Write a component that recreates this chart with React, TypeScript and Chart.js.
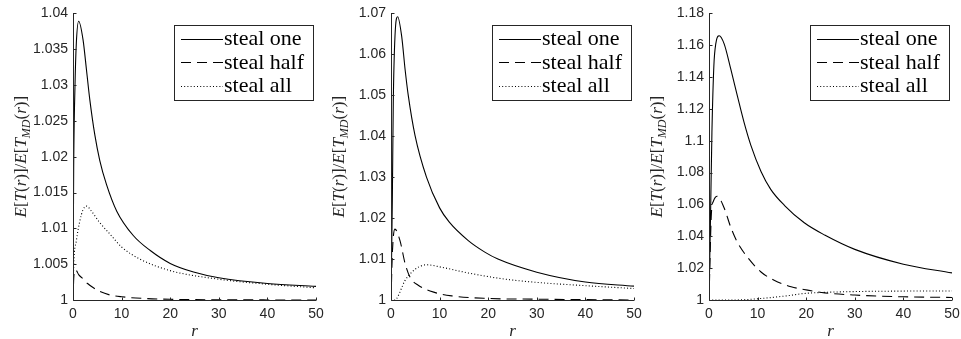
import React, { useEffect, useRef } from "react";
import { Chart, registerables } from "chart.js";

Chart.register(...registerables);

// ---------- data ----------
const seriesLabels = ["steal one", "steal half", "steal all"];
const xTicksStep = 10;
const xMax = 50;

// Panel 1
const p1OneR = [0, 0.14, 0.41, 0.69, 1.17, 2.07, 2.76, 3.45, 4.5, 5.5, 6.9, 9, 12.4, 15.9, 20, 24.8, 30, 40, 50];
const p1OneY = [1.0, 1.0184, 1.0299, 1.0359, 1.0389, 1.0363, 1.0322, 1.028, 1.023, 1.0195, 1.0161, 1.0124, 1.009, 1.0069, 1.0051, 1.0039, 1.0031, 1.0023, 1.0019];
const p1HalfR = [0, 0.15, 0.4, 0.7, 1.2, 2, 3, 4.2, 5.5, 7.6, 10, 15, 20, 30, 40, 50];
const p1HalfY = [1.0, 1.003, 1.0042, 1.0041, 1.0035, 1.003, 1.0023, 1.0017, 1.0012, 1.0007, 1.00045, 1.0002, 1.0001, 1.00003, 1.00001, 1.0];
const p1AllR = [0, 0.14, 0.7, 1.4, 2.07, 2.76, 3.8, 5.5, 7.6, 10, 13.8, 20, 30, 40, 50];
const p1AllY = [1.0, 1.0046, 1.0083, 1.011, 1.0126, 1.0131, 1.0124, 1.0108, 1.0092, 1.0074, 1.0057, 1.0041, 1.0029, 1.0022, 1.0017];

// Panel 2
const p2OneR = [0, 0.27, 0.47, 0.82, 1.37, 2.2, 2.9, 3.56, 4.94, 7.3, 10, 12, 15.9, 19.3, 22, 30, 40, 50];
const p2OneY = [1.0, 1.0241, 1.0483, 1.0644, 1.0692, 1.0644, 1.0563, 1.0499, 1.0402, 1.03, 1.0225, 1.019, 1.0145, 1.0117, 1.01, 1.0068, 1.0044, 1.0034];
const p2HalfR = [0, 0.3, 0.8, 1.85, 2.9, 3.9, 5.6, 9.1, 12.5, 19.4, 30, 40, 50];
const p2HalfY = [1.0, 1.012, 1.0173, 1.0145, 1.0089, 1.0056, 1.0036, 1.0018, 1.001, 1.0004, 1.0002, 1.0001, 1.0];
const p2AllR = [0, 0.8, 1.2, 2.9, 4.3, 5.6, 7.3, 10.4, 15.9, 22.8, 30, 40, 50];
const p2AllY = [1.0, 1.0, 1.0004, 1.0048, 1.0068, 1.008, 1.0086, 1.008, 1.0066, 1.0052, 1.0043, 1.0035, 1.0028];

// Panel 3
const p3OneR = [0, 0.3, 0.6, 1.0, 1.4, 2.1, 3.1, 4.5, 5.85, 7.2, 8.6, 10.7, 12.7, 15.5, 19.6, 23.8, 30, 40, 50];
const p3OneY = [1.0, 1.05, 1.105, 1.147, 1.161, 1.166, 1.161, 1.1448, 1.128, 1.1117, 1.0973, 1.0807, 1.0695, 1.0595, 1.0485, 1.0408, 1.0318, 1.0225, 1.017];
const p3HalfR = [0, 0.5, 0.9, 1.7, 3.1, 4.5, 5.85, 7.9, 10.7, 13.4, 16.9, 20.3, 23.8, 30, 40, 50];
const p3HalfY = [1.0, 1.0548, 1.062, 1.0652, 1.0579, 1.0455, 1.0362, 1.0269, 1.0176, 1.0124, 1.0083, 1.0062, 1.0045, 1.0031, 1.002, 1.0016];
const p3AllR = [0, 5, 9.3, 16.2, 19.6, 23.8, 30, 40, 50];
const p3AllY = [1.0, 1.0, 1.0006, 1.0027, 1.0041, 1.0048, 1.0053, 1.0056, 1.0057];

const p1YRange = [1, 1.04, 0.005];
const p2YRange = [1, 1.07, 0.01];
const p3YRange = [1, 1.18, 0.02];

// ---------- styles ----------
const AXIS_COLOR = "#262626";
const TICK_FONT = "Liberation Sans";
const SERIF = "Liberation Serif";
const dashes = [[], [10, 6], [1, 2.2]];

type PanelCfg = {
  series: [number[], number[]][];
  yRange: number[];
};

const panels: PanelCfg[] = [
  { series: [[p1OneR, p1OneY], [p1HalfR, p1HalfY], [p1AllR, p1AllY]], yRange: p1YRange },
  { series: [[p2OneR, p2OneY], [p2HalfR, p2HalfY], [p2AllR, p2AllY]], yRange: p2YRange },
  { series: [[p3OneR, p3OneY], [p3HalfR, p3HalfY], [p3AllR, p3AllY]], yRange: p3YRange },
];

const panelLefts = [0, 318, 636];
const CW = 330;
const CH = 339;

const decoPlugin = {
  id: "deco",
  afterDraw(chart: any) {
    const { ctx, chartArea: ca, scales } = chart;
    const xs = scales.x;
    const ys = scales.y;
    ctx.save();
    // axes
    ctx.strokeStyle = AXIS_COLOR;
    ctx.lineWidth = 1;
    const L = Math.round(ca.left) + 0.5;
    const B = Math.round(ca.bottom) + 0.5;
    ctx.beginPath();
    ctx.moveTo(L, Math.round(ca.top));
    ctx.lineTo(L, B);
    ctx.lineTo(Math.round(ca.right), B);
    ctx.stroke();
    ctx.beginPath();
    ys.ticks.forEach((t: any) => {
      const y = Math.round(ys.getPixelForValue(t.value)) + 0.5;
      ctx.moveTo(L, y);
      ctx.lineTo(L + 3, y);
    });
    xs.ticks.forEach((t: any) => {
      const x = Math.round(xs.getPixelForValue(t.value)) + 0.5;
      ctx.moveTo(x, B);
      ctx.lineTo(x, B - 3);
    });
    ctx.stroke();

    // x label
    ctx.fillStyle = AXIS_COLOR;
    ctx.font = `italic 17px "${SERIF}"`;
    ctx.textAlign = "center";
    ctx.textBaseline = "alphabetic";
    ctx.fillText("r", (ca.left + ca.right) / 2, 336);

    // y label with subscript
    const fs = 17;
    const segs: [string, string, number][] = [
      ["E", "italic", 0], ["[", "", 0], ["T", "italic", 0], ["(", "", 0], ["r", "italic", 0], [")]/", "", 0],
      ["E", "italic", 0], ["[", "", 0], ["T", "italic", 0], ["MD", "italic", 1], ["(", "", 0], ["r", "italic", 0], [")]", "", 0],
    ];
    const fontFor = (s: [string, string, number]) =>
      `${s[1]} ${s[2] ? Math.round(fs * 0.7) : fs}px "${SERIF}"`.trim();
    let total = 0;
    const widths = segs.map((s) => {
      ctx.font = fontFor(s);
      const w = ctx.measureText(s[0]).width;
      total += w;
      return w;
    });
    ctx.translate(26, (ca.top + ca.bottom) / 2);
    ctx.rotate(-Math.PI / 2);
    ctx.textAlign = "left";
    let cx = -total / 2;
    segs.forEach((s, i) => {
      ctx.font = fontFor(s);
      ctx.fillText(s[0], cx, s[2] ? 3.5 : 0);
      cx += widths[i];
    });
    ctx.setTransform(1, 0, 0, 1, 0, 0);

    // legend
    const boxW = 139;
    const boxH = 75;
    const boxR = Math.round(ca.right) - 3;
    const boxL = boxR - boxW;
    const boxT = Math.round(ca.top) + 12;
    ctx.fillStyle = "#ffffff";
    ctx.fillRect(boxL, boxT, boxW, boxH);
    ctx.strokeStyle = AXIS_COLOR;
    ctx.lineWidth = 1;
    ctx.strokeRect(boxL + 0.5, boxT + 0.5, boxW, boxH);
    const rowsY = [13.5, 37, 60.5];
    chart.data.datasets.forEach((ds: any, i: number) => {
      const y = boxT + rowsY[i];
      ctx.strokeStyle = "#000";
      ctx.lineWidth = 1;
      ctx.setLineDash(ds.borderDash || []);
      ctx.beginPath();
      ctx.moveTo(boxL + 7, Math.round(y) + 0.5);
      ctx.lineTo(boxL + 49, Math.round(y) + 0.5);
      ctx.stroke();
      ctx.setLineDash([]);
      ctx.fillStyle = "#000";
      ctx.font = `22px "${SERIF}"`;
      ctx.textAlign = "left";
      ctx.textBaseline = "middle";
      ctx.fillText(ds.label, boxL + 50, y + 1);
    });
    ctx.restore();
  },
};

const fmt = (v: any) => String(parseFloat(Number(v).toFixed(4)));

function Panel({ cfg, left }: { cfg: PanelCfg; left: number }) {
  const ref = useRef<HTMLCanvasElement>(null);
  useEffect(() => {
    const [yMin, yMax, yStep] = cfg.yRange;
    const chart = new Chart(ref.current as HTMLCanvasElement, {
      type: "line",
      data: {
        datasets: cfg.series.map(([R, Y], i) => ({
          label: seriesLabels[i],
          data: R.map((x, j) => ({ x, y: Y[j] })),
          borderColor: "#000",
          borderWidth: 1.1,
          borderDash: dashes[i],
          pointRadius: 0,
          fill: false,
          cubicInterpolationMode: "monotone" as const,
        })),
      },
      options: {
        animation: false,
        responsive: false,
        devicePixelRatio: 1,
        layout: { padding: { left: 0, right: 14, top: 10, bottom: 0 } },
        plugins: { legend: { display: false }, tooltip: { enabled: false } },
        scales: {
          x: {
            type: "linear",
            min: 0,
            max: xMax,
            ticks: {
              stepSize: xTicksStep,
              color: AXIS_COLOR,
              font: { family: TICK_FONT, size: 14 },
              padding: 6,
              maxRotation: 0,
              autoSkip: false,
              callback: fmt,
            },
            grid: { display: false, drawTicks: false },
            border: { display: false },
            afterFit: (s: any) => {
              s.height = 39;
            },
          },
          y: {
            type: "linear",
            min: yMin,
            max: yMax,
            ticks: {
              stepSize: yStep,
              color: AXIS_COLOR,
              font: { family: TICK_FONT, size: 14 },
              padding: 5,
              autoSkip: false,
              callback: fmt,
            },
            grid: { display: false, drawTicks: false },
            border: { display: false },
            afterFit: (s: any) => {
              s.width = 73;
            },
          },
        },
      },
      plugins: [decoPlugin],
    } as any);
    return () => chart.destroy();
  }, [cfg]);
  return (
    <canvas
      ref={ref}
      width={CW}
      height={CH}
      style={{ position: "absolute", left, top: 0, width: CW, height: CH }}
    />
  );
}

export default function App() {
  return (
    <div
      style={{
        position: "fixed",
        left: 0,
        top: 0,
        width: 961,
        height: 339,
        overflow: "hidden",
        background: "#fff",
      }}
    >
      {panels.map((p, i) => (
        <Panel key={i} cfg={p} left={panelLefts[i]} />
      ))}
    </div>
  );
}
